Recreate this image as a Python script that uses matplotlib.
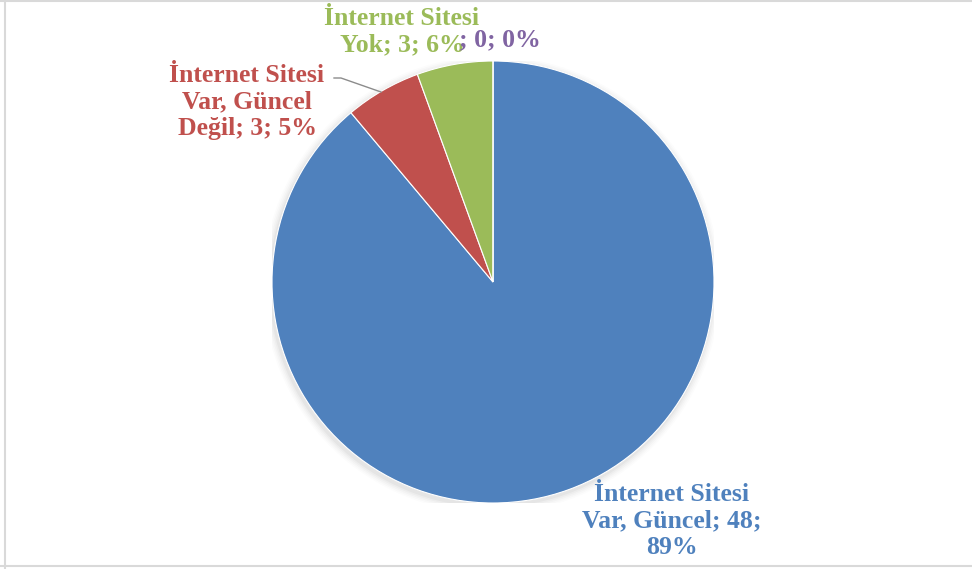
import matplotlib
matplotlib.use("Agg")
import matplotlib.pyplot as plt
from matplotlib.patches import Circle
from matplotlib.lines import Line2D

categories = ["İnternet Sitesi Var, Güncel", "İnternet Sitesi Var, Güncel Değil",
              "İnternet Sitesi Yok", ""]
values = [48, 3, 3, 0]
percents = ["89%", "5%", "6%", "0%"]
colors = ["#4F81BD", "#C0504D", "#9BBB59", "#8064A2"]
text_colors = ["#4F81BD", "#C0504D", "#9BBB59", "#8064A2"]

# wrapped label texts (as displayed)
label_texts = [
    "İnternet Sitesi\nVar, Güncel; {v};\n{p}",
    "İnternet Sitesi\nVar, Güncel\nDeğil; {v}; {p}",
    "İnternet Sitesi\nYok; {v}; {p}",
    "; {v}; {p}",
]

W, H = 972, 569
fig = plt.figure(figsize=(W / 100, H / 100), dpi=100)
fig.patch.set_facecolor("white")

cx, cy, r = 493, 282, 221
ax = fig.add_axes([(cx - r) / W, (H - cy - r) / H, 2 * r / W, 2 * r / H])
ax.set_xlim(-1, 1)
ax.set_ylim(-1, 1)
ax.set_aspect("equal")
ax.axis("off")

# soft shadow
for i, a in enumerate([0.03, 0.025, 0.02, 0.015, 0.01]):
    ax.add_patch(Circle((-0.006, -0.012), 1.0 + 0.007 * (i + 1), color="black",
                        alpha=a, lw=0, zorder=0))

ax.pie(values, colors=colors, startangle=90, counterclock=False, radius=1.0,
       wedgeprops=dict(linewidth=0.8, edgecolor="white"))
ax.set_xlim(-1, 1)
ax.set_ylim(-1, 1)

font = dict(family="Liberation Serif", fontweight="bold", fontsize=18.5)
positions = [(672, 521, "center"), (247, 102, "center"), (402, 32, "center"), (500, 40, "center")]
for txt, v, p, c, (x, y, ha) in zip(label_texts, values, percents, text_colors, positions):
    fig.text(x / W, 1 - y / H, txt.format(v=v, p=p), color=c, ha=ha, va="center",
             linespacing=1.2, **font)

# leader line for red label
fig.add_artist(Line2D([334 / W, 341 / W, 381 / W],
                      [1 - 78 / H, 1 - 78 / H, 1 - 92 / H],
                      color="#8c8c8c", lw=1.0))

# figure border
bc = "#d9d9d9"
fig.add_artist(Line2D([5 / W, 5 / W], [0, 1], color=bc, lw=1.5))
fig.add_artist(Line2D([0, 1], [1 - 1 / H, 1 - 1 / H], color=bc, lw=1.5))
fig.add_artist(Line2D([0, 1], [1 - 566 / H, 1 - 566 / H], color=bc, lw=1.5))

fig.savefig("out.png", dpi=100, facecolor="white")
